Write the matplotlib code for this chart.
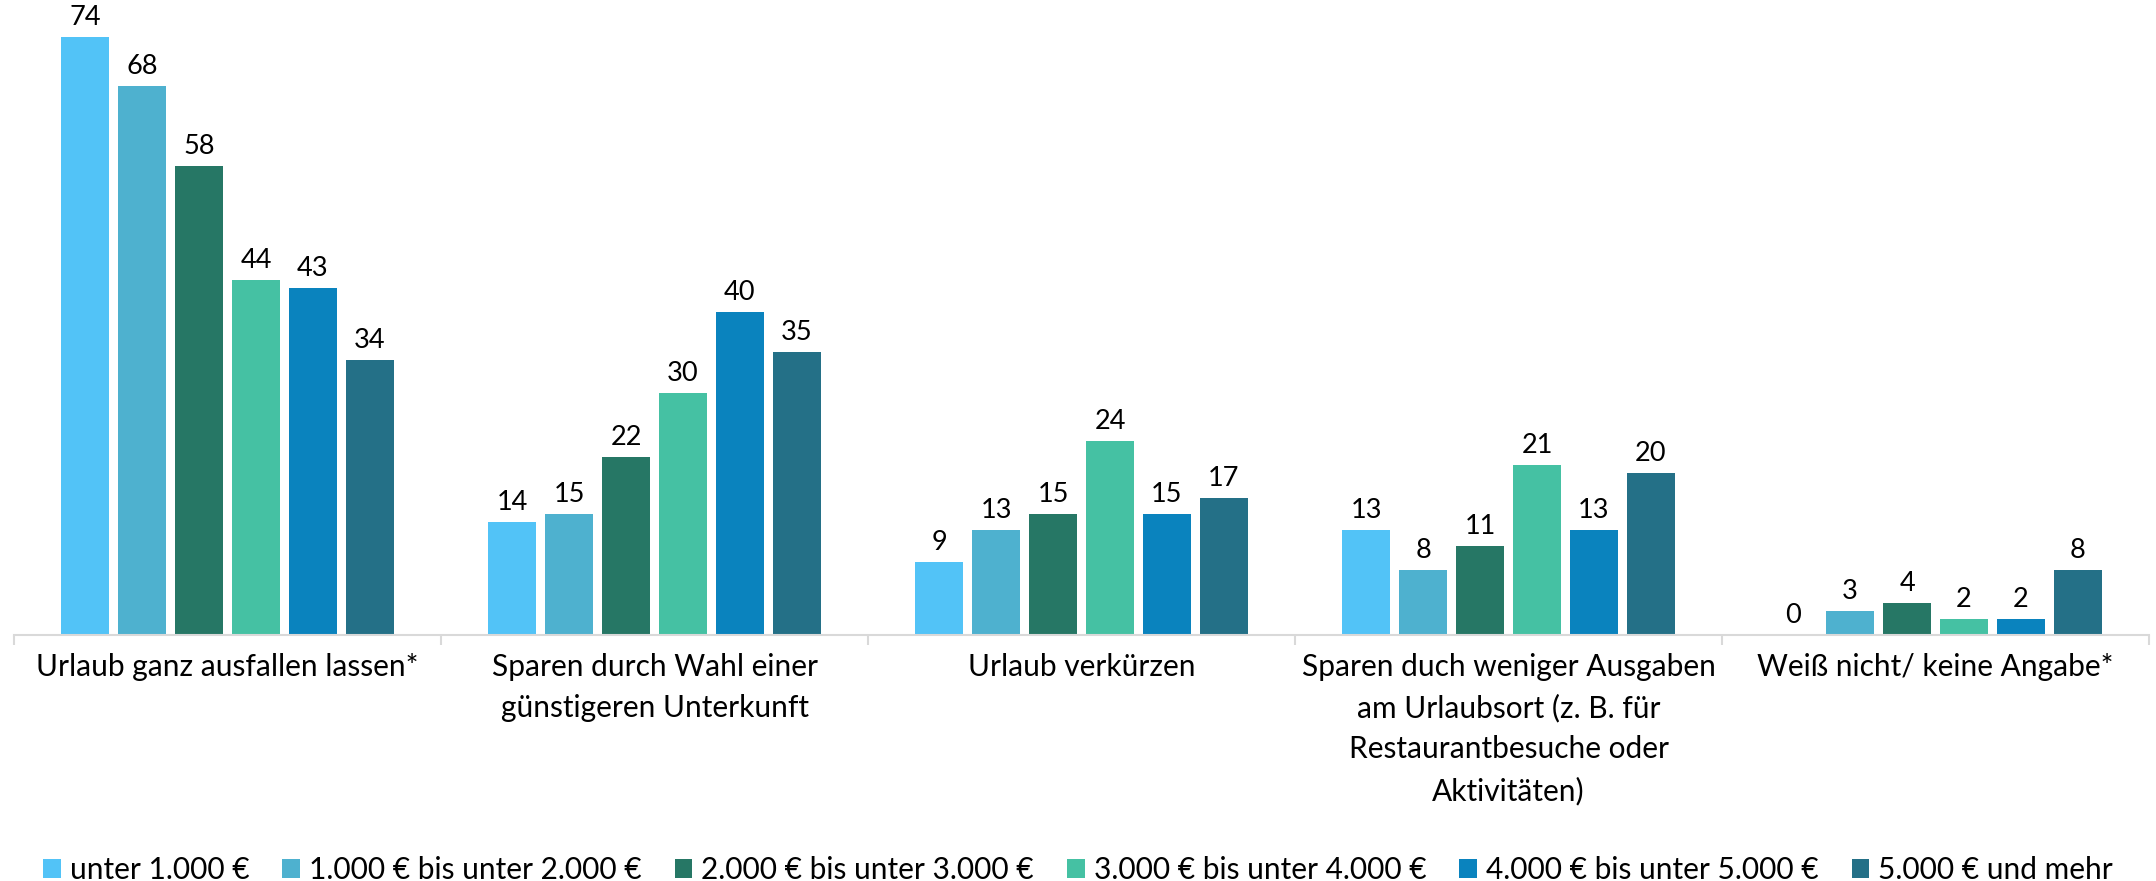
import numpy as np
import matplotlib.pyplot as plt

plt.rcParams['font.family'] = ['Lato', 'DejaVu Sans']

kategorien = [
    'Urlaub ganz ausfallen lassen*',
    'Sparen durch Wahl einer\ngünstigeren Unterkunft',
    'Urlaub verkürzen',
    'Sparen duch weniger Ausgaben\nam Urlaubsort (z. B. für\nRestaurantbesuche oder\nAktivitäten)',
    'Weiß nicht/ keine Angabe*',
]
einkommen = [
    'unter 1.000 €',
    '1.000 € bis unter 2.000 €',
    '2.000 € bis unter 3.000 €',
    '3.000 € bis unter 4.000 €',
    '4.000 € bis unter 5.000 €',
    '5.000 € und mehr',
]
unter_1000 = [74, 14, 9, 13, 0]
von_1000 = [68, 15, 13, 8, 3]
von_2000 = [58, 22, 15, 11, 4]
von_3000 = [44, 30, 24, 21, 2]
von_4000 = [43, 40, 15, 13, 2]
ab_5000 = [34, 35, 17, 20, 8]
reihen = [unter_1000, von_1000, von_2000, von_3000, von_4000, ab_5000]

farben = ['#52C3F7', '#4EB1CF', '#267765', '#45C1A3', '#0A83BE', '#247087']

fig = plt.figure(figsize=(21.56, 8.81), dpi=100)
ax = fig.add_axes([0.0065, 0.2792, 0.9903, 0.7208])

x = np.arange(len(kategorien))
schritt = 0.1333
breite = 0.1127
for i, (werte, name) in enumerate(zip(reihen, einkommen)):
    pos = x + (i - 2.5) * schritt
    balken = ax.bar(pos, werte, breite, color=farben[i], label=name, zorder=2)
    ax.bar_label(balken, padding=5, fontsize=19.5, color='black')

ax.set_xlim(-0.5, len(kategorien) - 0.5)
ax.set_ylim(0, 78.6)
ax.set_yticks([])
for s in ['top', 'right', 'left']:
    ax.spines[s].set_visible(False)
ax.spines['bottom'].set_color('#d9d9d9')
ax.spines['bottom'].set_linewidth(1.5)

ax.set_xticks(x)
ax.set_xticklabels(kategorien, fontsize=21.5, linespacing=1.55)
ax.tick_params(axis='x', which='major', length=0, pad=13)
ax.set_xticks(np.arange(-0.5, len(kategorien)), minor=True)
ax.tick_params(axis='x', which='minor', length=7, width=1.5, color='#d9d9d9')

fig.legend(loc='center', bbox_to_anchor=(0.5, 0.012), ncol=6, frameon=False,
           fontsize=21.5, handlelength=0.6, handleheight=0.6,
           handletextpad=0.3, columnspacing=1.1)

fig.savefig('out.png', dpi=100)
